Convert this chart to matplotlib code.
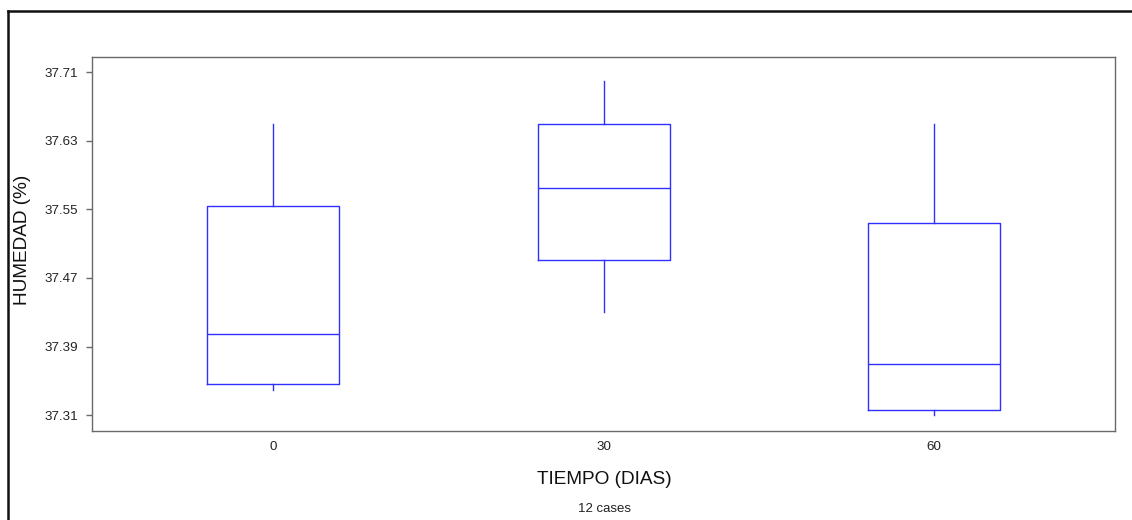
import matplotlib.pyplot as plt
from matplotlib.lines import Line2D

plt.rcParams['font.family'] = ['Liberation Sans', 'DejaVu Sans']

# Humidity box plot per storage time
dias = ['0', '30', '60']
whis_low = [37.340, 37.430, 37.310]
q1 = [37.3465, 37.491, 37.316]
mediana = [37.405, 37.575, 37.370]
q3 = [37.554, 37.649, 37.534]
whis_high = [37.650, 37.6995, 37.650]
y_ticks = [37.31, 37.39, 37.47, 37.55, 37.63, 37.71]
n_casos = 12

stats = []
for i in range(len(dias)):
    stats.append({'label': dias[i], 'whislo': whis_low[i], 'q1': q1[i],
                  'med': mediana[i], 'q3': q3[i], 'whishi': whis_high[i],
                  'fliers': []})

fig = plt.figure(figsize=(11.32, 5.2), dpi=100)
ax = fig.add_axes([92 / 1132, 1 - 430.7 / 520, 1023 / 1132, 373.7 / 520])

azul = '#2f2fff'
ax.bxp(stats, positions=range(len(dias)), widths=0.40, showfliers=False,
       showcaps=False,
       boxprops=dict(color=azul, linewidth=1),
       medianprops=dict(color=azul, linewidth=1),
       whiskerprops=dict(color=azul, linewidth=1))

ax.set_xlim(-0.549, 2.547)
ax.set_ylim(37.292, 37.7275)
ax.set_yticks(y_ticks)
ax.set_yticklabels(['%.2f' % v for v in y_ticks])
ax.set_xticks(range(len(dias)))
ax.set_xticklabels(dias)

for s in ax.spines.values():
    s.set_color('#6a6a6a')
    s.set_linewidth(1)
ax.tick_params(axis='y', length=4.3, width=1, color='#6a6a6a', pad=6,
               labelsize=9.6, labelcolor='#222222')
ax.tick_params(axis='x', length=0, pad=7.5, labelsize=9.6, labelcolor='#222222')

fig.text(23 / 1132, 1 - 240 / 520, 'HUMEDAD (%)', rotation=90, fontsize=13.7,
         ha='center', va='center', color='#111111')
fig.text(604 / 1132, 1 - 480 / 520, 'TIEMPO (DIAS)', fontsize=13.7,
         ha='center', va='center', color='#111111')
fig.text(604 / 1132, 1 - 509 / 520, '%d cases' % n_casos, fontsize=9.5,
         ha='center', va='center', color='#222222')

# outer frame (left and top edges)
fig.add_artist(Line2D([8 / 1132, 8 / 1132], [0, 1 - 11 / 520], color='#111111',
                      linewidth=1.8, transform=fig.transFigure))
fig.add_artist(Line2D([8 / 1132, 1], [1 - 11 / 520, 1 - 11 / 520], color='#111111',
                      linewidth=1.8, transform=fig.transFigure))

fig.savefig('out.png', dpi=100)
